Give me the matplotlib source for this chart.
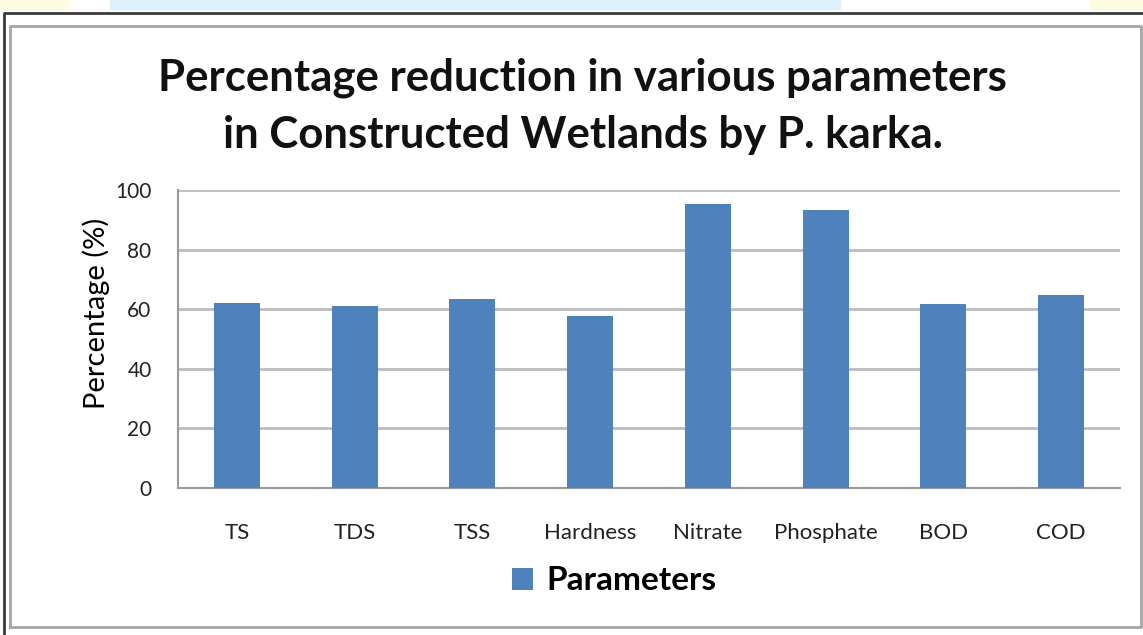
import matplotlib.pyplot as plt
from matplotlib.patches import Rectangle
from matplotlib.lines import Line2D

params = ['TS', 'TDS', 'TSS', 'Hardness', 'Nitrate', 'Phosphate', 'BOD', 'COD']
reduction = [62.2, 61.1, 63.4, 57.7, 95.3, 93.3, 61.6, 64.8]
yticks = [0, 20, 40, 60, 80, 100]

bar_color = '#4f81bd'
grid_color = '#bcbcbc'

fig = plt.figure(figsize=(11.43, 6.35), dpi=100)
W, H = 1143, 635

def fx(px):
    return px / W

def fy(py):
    return 1 - py / H

# faded strip at the top of the screenshot
fig.patches.append(Rectangle((0, fy(9)), fx(70), fy(0) - fy(9), transform=fig.transFigure,
                             color='#fdfbe0', zorder=0))
fig.patches.append(Rectangle((fx(110), fy(9)), fx(730), fy(0) - fy(9), transform=fig.transFigure,
                             color='#dcf1fa', zorder=0))
fig.patches.append(Rectangle((fx(1090), fy(9)), fx(53), fy(0) - fy(9), transform=fig.transFigure,
                             color='#fdfbe0', zorder=0))

# outer dark frame and inner chart box
fig.lines.append(Line2D([fx(4), fx(4), 1], [0, fy(13), fy(13)], transform=fig.transFigure,
                        color='#3a3a3a', lw=2))
fig.lines.append(Line2D([fx(10), fx(10), fx(1141), fx(1141), fx(10)],
                        [fy(627), fy(26), fy(26), fy(627), fy(627)], transform=fig.transFigure,
                        color='#a6a6a6', lw=2))

ax = fig.add_axes([fx(178), fy(488), fx(1120) - fx(178), fy(190) - fy(488)])
x = range(len(params))
ax.bar(x, reduction, width=0.39, color=bar_color, zorder=3, label='Parameters')
ax.set_xlim(-0.5, len(params) - 0.5)
ax.set_ylim(0, 100)
ax.set_yticks(yticks)
ax.set_xticks(list(x))
ax.set_xticklabels(params, fontsize=16, family='Lato')
ax.set_yticklabels([str(v) for v in yticks], fontsize=15, family='Lato')
ax.tick_params(axis='both', length=0, colors='#222222')
ax.tick_params(axis='x', pad=25)
ax.tick_params(axis='y', pad=19)
ax.yaxis.grid(True, color=grid_color, lw=2, zorder=0)
for s in ['top', 'right']:
    ax.spines[s].set_visible(False)
ax.spines['left'].set_color('#999999')
ax.spines['bottom'].set_color('#999999')
ax.spines['left'].set_linewidth(1.5)
ax.spines['bottom'].set_linewidth(1.5)

ax.set_ylabel('Percentage (%)', fontsize=21, family='Lato')
ax.yaxis.set_label_coords(-0.072, 0.587)

fig.text(fx(582), fy(78), 'Percentage reduction in various parameters', ha='center', va='center',
         fontsize=31.5, fontweight='bold', family='Lato', color='#111111')
fig.text(fx(583), fy(135), 'in Constructed Wetlands by P. karka.', ha='center', va='center',
         fontsize=31.5, fontweight='bold', family='Lato', color='#111111')

leg = fig.legend(loc='center', bbox_to_anchor=(fx(614), fy(581)), frameon=False,
                 prop={'family': 'Lato', 'weight': 'bold', 'size': 24},
                 handlelength=0.62, handleheight=0.62, handletextpad=0.4)

fig.savefig('out.png', dpi=100)
